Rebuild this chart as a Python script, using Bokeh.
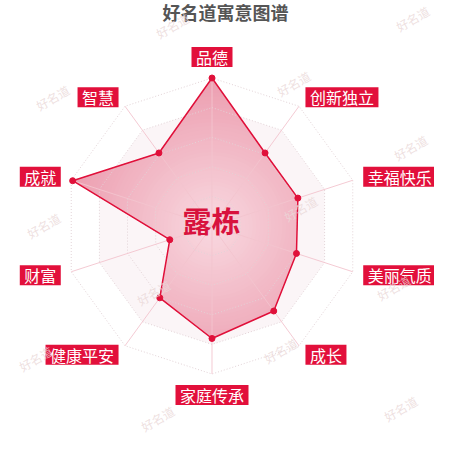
import numpy as np
from bokeh.plotting import figure
from bokeh.models import Range1d
from bokeh.core.properties import value
from bokeh.embed import file_html
from bokeh.resources import INLINE

# ---- data ----
title_text = "好名道寓意图谱"
name_text = "露栋"
labels = ["品德", "创新独立", "幸福快乐", "美丽气质", "成长",
          "家庭传承", "健康平安", "财富", "成就", "智慧"]
scores = [100, 61, 61, 60, 71, 76, 60, 30, 99, 61]
max_score = 100
ring_levels = [0.2, 0.4, 0.6, 0.8, 1.0]
watermark_text = "好名道"

# ---- layout helpers (screen px -> data units) ----
CX, CY, R = 211.5, 225.5, 148.0
def sx(px):
    return (px - CX) / R
def sy(py):
    return (CY - py) / R

watermarks_px = [(172, 25), (412, 18), (52, 97), (293, 83), (410, 147), (43, 225),
                 (300, 208), (393, 287), (153, 292), (35, 358), (280, 350),
                 (157, 418), (400, 408)]

n = len(labels)
theta = np.arange(n) * 2 * np.pi / n
ux, uy = np.sin(theta), np.cos(theta)
rv = np.array(scores, dtype=float) / max_score
vx, vy = rv * ux, rv * uy

W = 434
p = figure(width=W, height=W, output_backend="svg", toolbar_location=None,
           x_range=Range1d(sx(0), sx(W)), y_range=Range1d(sy(W), sy(0)),
           min_border=0)
p.axis.visible = False
p.grid.visible = False
p.outline_line_color = None
p.background_fill_color = "white"

# background inner area
p.patch(list(0.8 * ux), list(0.8 * uy), fill_color="#fbf5f7", line_color=None)

# polygon with radial gradient (layers: polygon clipped to discs)
bx, by = [], []
for i in range(n):
    j = (i + 1) % n
    t = np.linspace(0, 1, 60, endpoint=False)
    bx.extend((1 - t) * vx[i] + t * vx[j])
    by.extend((1 - t) * vy[i] + t * vy[j])
bx, by = np.array(bx), np.array(by)
bn = np.hypot(bx, by)
outer_c = np.array([236, 158, 176])
inner_c = np.array([249, 218, 225])
xs, ys, cols = [], [], []
N = 40
for k in range(N):
    r = 1.0 - k / N
    s = np.minimum(1.0, r / bn)
    xs.append(list(bx * s))
    ys.append(list(by * s))
    c = inner_c + (outer_c - inner_c) * r
    cols.append("#%02x%02x%02x" % tuple(int(round(v)) for v in c))
p.patches(xs, ys, fill_color=cols, line_color=None)

# rings
rx = [list(np.append(lv * ux, lv * ux[0])) for lv in ring_levels]
ry = [list(np.append(lv * uy, lv * uy[0])) for lv in ring_levels]
p.multi_line(rx, ry, line_color="#e3d3d7", line_width=1, line_dash="1 2")

# axis lines
p.multi_line([[0, x] for x in ux], [[0, y] for y in uy],
             line_color="#f3c4ce", line_width=1, line_alpha=0.9)

# outline + points
p.line(list(np.append(vx, vx[0])), list(np.append(vy, vy[0])),
       line_color="#e0103a", line_width=1.5)
p.scatter(list(vx), list(vy), size=6, fill_color="#e0103a", line_color="#e0103a")

# axis name labels in red boxes
FS = 16
lab_r = 159.0 / R
lx, ly, lw, lh = [], [], [], []
for i, lab in enumerate(labels):
    ax, ay = lab_r * ux[i], lab_r * uy[i]
    w = len(lab) * FS + 9
    h = 20
    if ux[i] > 0.01:
        cx = ax + (w / 2) / R
    elif ux[i] < -0.01:
        cx = ax - (w / 2) / R
    else:
        cx = ax
    if abs(ux[i]) < 0.01:
        cy = ay + (h / 2) / R if uy[i] > 0 else ay - (h / 2) / R
    else:
        cy = ay
    lx.append(cx); ly.append(cy); lw.append(w); lh.append(h)
p.rect(lx, ly, width=lw, height=lh, width_units="screen", height_units="screen",
       fill_color="#e2103b", line_color=None)
p.text(lx, ly, text=labels, text_align="center", text_baseline="middle",
       text_color="white", text_font_size=f"{FS}px",
       text_font=value("Noto Sans CJK SC"))

# center name
p.text([sx(211)], [sy(219)], text=[name_text], text_align="center",
       text_baseline="middle", text_color="#d8123d", text_font_size="29px",
       text_font_style="bold", text_font=value("Noto Sans CJK SC"))

# title
p.text([sx(225)], [sy(11)], text=[title_text], text_align="center",
       text_baseline="middle", text_color="#555555", text_font_size="18px",
       text_font_style="bold", text_font=value("Noto Sans CJK SC"))

# watermarks
p.text([sx(a) for a, b in watermarks_px], [sy(b) for a, b in watermarks_px],
       text=[watermark_text] * len(watermarks_px), angle=np.deg2rad(30),
       text_align="center", text_baseline="middle", text_color="#ead8d8",
       text_alpha=0.8, text_font_size="12px",
       text_font=value("Noto Sans CJK SC"))

open("out.html", "w").write(file_html(p, INLINE))
